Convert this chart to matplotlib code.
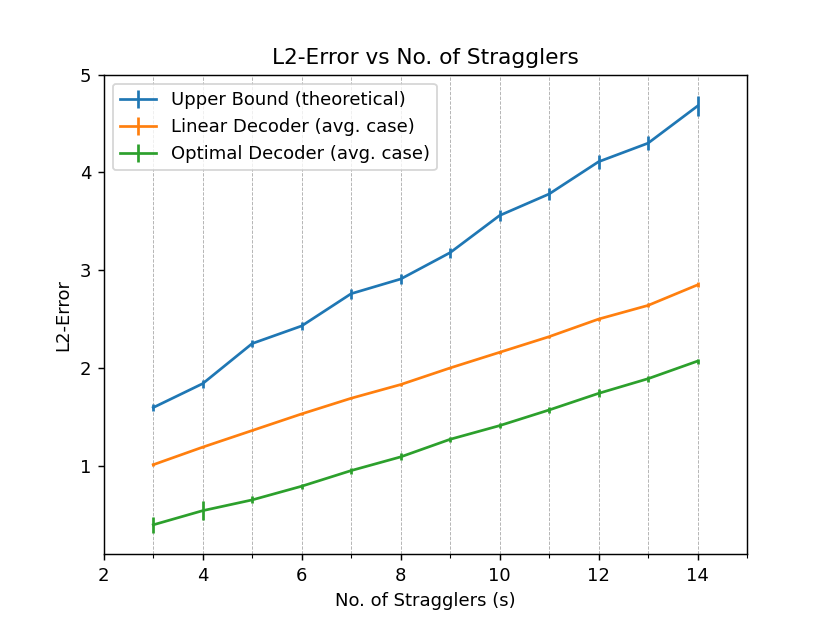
import matplotlib
matplotlib.use("Agg")
import matplotlib.pyplot as plt
from matplotlib.ticker import MultipleLocator

s = [3, 4, 5, 6, 7, 8, 9, 10, 11, 12, 13, 14]
upper = [1.595, 1.84, 2.25, 2.43, 2.76, 2.91, 3.18, 3.56, 3.78, 4.11, 4.30, 4.68]
upper_err = [0.04, 0.04, 0.04, 0.04, 0.05, 0.05, 0.05, 0.06, 0.06, 0.07, 0.07, 0.1]
linear = [1.01, 1.19, 1.36, 1.53, 1.69, 1.83, 2.0, 2.16, 2.32, 2.50, 2.64, 2.85]
linear_err = [0.015, 0.01, 0.01, 0.01, 0.01, 0.01, 0.01, 0.015, 0.01, 0.015, 0.02, 0.025]
optimal = [0.395, 0.54, 0.65, 0.79, 0.95, 1.09, 1.27, 1.41, 1.57, 1.74, 1.89, 2.07]
optimal_err = [0.08, 0.1, 0.035, 0.025, 0.03, 0.035, 0.025, 0.025, 0.03, 0.04, 0.03, 0.025]

fig, ax = plt.subplots(figsize=(830/130, 623/130), dpi=130)
ax.errorbar(s, upper, yerr=upper_err, label="Upper Bound (theoretical)")
ax.errorbar(s, linear, yerr=linear_err, label="Linear Decoder (avg. case)")
ax.errorbar(s, optimal, yerr=optimal_err, label="Optimal Decoder (avg. case)")
ax.set_xlim(2, 15)
ax.set_ylim(top=5)
ax.xaxis.set_minor_locator(MultipleLocator(1))
ax.grid(which="both", axis="x", linestyle="--", linewidth=0.5, color="#b0b0b0")
ax.set_xlabel("No. of Stragglers (s)")
ax.set_ylabel("L2-Error")
ax.set_title("L2-Error vs No. of Stragglers")
ax.legend(loc="upper left")
fig.savefig("out.png", dpi=130)
